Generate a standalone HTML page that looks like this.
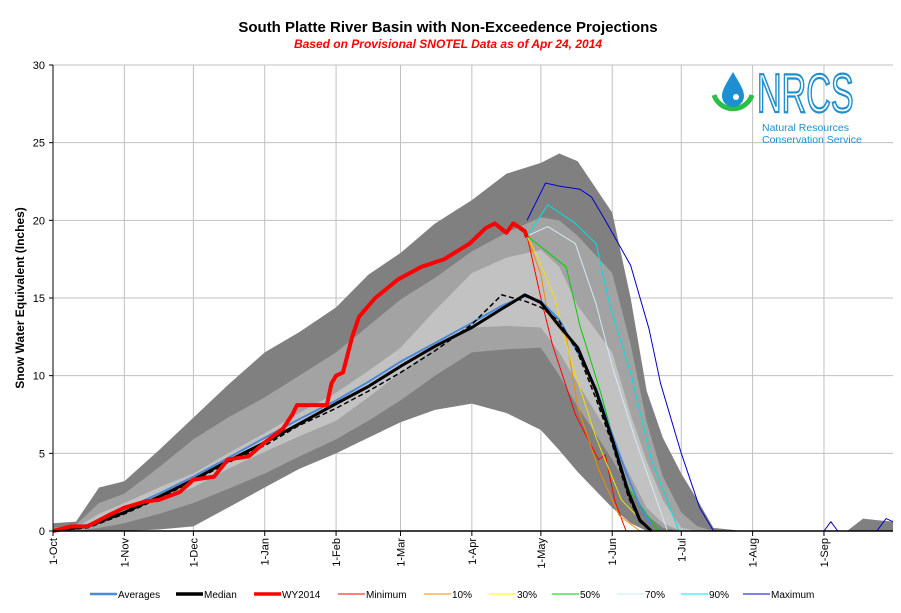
<!DOCTYPE html>
<html><head><meta charset="utf-8"><style>
body{margin:0;background:#fff;font-family:"Liberation Sans",Arial,sans-serif}
#wrap{position:relative;width:901px;height:613px;overflow:hidden}
svg text{font-family:"Liberation Sans",Arial,sans-serif}
</style></head><body>
<div id="wrap">
<svg id="chart" width="901" height="613"></svg>
</div>
<script>
// ---- data ----
const yTicks = [0,5,10,15,20,25,30];
const monthLabels = ["1-Oct","1-Nov","1-Dec","1-Jan","1-Feb","1-Mar","1-Apr","1-May","1-Jun","1-Jul","1-Aug","1-Sep"];
const monthDays = [0,31,61,92,123,151,182,212,243,273,304,335];
const bandDays = [0,10,20,31,46,61,76,92,107,123,137,151,166,182,197,212,220,228,243,251,258,265,273,280,287,300,345,352,358,365];
const maxVals  = [0.5,0.6,2.8,3.2,5.2,7.3,9.4,11.5,12.8,14.4,16.5,17.9,19.8,21.3,23,23.7,24.3,23.8,20.5,15,9,6,3.7,2,0.2,0,0,0.8,0.7,0.6];
const p90Vals  = [0.2,0.4,1.8,2.4,4.1,5.9,7.3,8.6,10,11.5,13.2,14.9,16.3,18,19.2,20.2,20,19,16.6,12,7,3.5,1.2,0.3,0,0,0,0,0,0];
const p70Vals  = [0.1,0.2,1.1,1.8,2.8,3.7,5,6.3,7.6,8.9,10.3,11.8,14.2,16.6,17.6,18.1,17,14.5,11.5,7.5,4.5,2,0.2,0,0,0,0,0,0,0];
const p30Vals  = [0,0.1,0.7,1.2,2,2.8,4,5.1,6.1,7.1,8.6,10.2,11.8,13.1,13.2,13.1,11.5,9.5,5.9,3.5,1.5,0.5,0,0,0,0,0,0,0,0];
const p10Vals  = [0,0,0.2,0.5,1.1,1.8,2.7,3.7,4.8,5.9,7.1,8.4,10,11.5,11.7,11.8,10,8,4.6,2.5,1,0.2,0,0,0,0,0,0,0,0];
const minVals  = [0,0,0,0,0.1,0.3,1.5,2.8,4,5,6,7,7.8,8.2,7.6,6.5,5.2,3.8,1.5,0.5,0,0,0,0,0,0,0,0,0,0];
const medDays = [0,15,31,46,61,76,92,107,123,137,151,166,182,195,205,212,220,228,236,243,250,255,260];
const medVals = [0,0.3,1.2,2.2,3.3,4.5,5.7,6.9,8.2,9.3,10.6,11.9,13.1,14.3,15.2,14.7,13.2,11.8,9,5.9,2.5,0.7,0];
const avgVals = [0,0.4,1.4,2.4,3.5,4.7,6,7.2,8.4,9.6,10.9,12.1,13.4,14.5,15.1,14.8,13.6,11.5,9.2,6.2,3.4,1.6,0.4];
const dashVals = [0,0.2,1.1,2.1,3.2,4.4,5.5,6.8,7.9,9,10.2,11.6,13.3,15.2,14.8,14.4,13.5,11.5,8.5,5.6,2.2,0.6,0];
const wyDays = [0,8,15,24,31,40,46,55,61,70,76,85,92,100,104,106,119,121,123,126,130,133,140,150,160,170,181,188,192,197,200,205,206];
const wyVals = [0,0.3,0.3,1,1.5,1.9,2,2.5,3.3,3.5,4.6,4.8,5.7,6.6,7.5,8.1,8.1,9.5,10,10.2,12.5,13.8,15,16.2,17,17.5,18.5,19.5,19.8,19.2,19.8,19.3,18.9];
const pMaxDays=[206,214,220,229,234,240,251,259,264,273,281,287,335,338,341,358,362,365];
const pMaxVals=[20,22.4,22.2,22,21.5,20,17.1,13,9.5,5,1.5,0,0,0.6,0,0,0.8,0.6];
const p90Days=[206,215,220,227,236,242,251,260,272,365];
const p90Proj=[19,21,20.5,19.8,18.5,14.5,10.2,4.6,0,0];
const p70Days=[206,215,227,236,243,253,267,365];
const p70Proj=[19,19.6,18.5,14.6,10.6,5.9,0,0];
const p50Days=[206,212,223,229,238,249,263,365];
const p50Proj=[19,18.3,17,13.2,8.9,3,0,0];
const p30Days=[206,211,218,225,236,247,260,365];
const p30Proj=[19,17.5,15,11,6,2,0,0];
const p10Days=[206,212,215,223,228,237,246,255,365];
const p10Proj=[19,16.5,14,12.5,8,4,1,0,0];
const pMinDays=[206,212,217,227,237,240,244,249,365];
const pMinProj=[19,15,12,7.5,4.6,4.9,2,0,0];
const legendLabels=["Averages","Median","WY2014","Minimum","10%","30%","50%","70%","90%","Maximum"];
const legendColors=["#4a8ad8","#000","#f00","#f00","#f28a00","#ffff00","#00d000","#c8e8f0","#00e8e8","#0000d0"];

// ---- axes ----
const X0=53, X1=893, Y0=531, Y1=65;
const xs=d=>X0+d*(X1-X0)/365;
const ys=v=>Y0-v*(Y0-Y1)/30;
const NS="http://www.w3.org/2000/svg";
const svg=document.getElementById('chart');
function mk(tag,attrs,parent){const e=document.createElementNS(NS,tag);for(const k in attrs)e.setAttribute(k,attrs[k]);(parent||svg).appendChild(e);return e;}

yTicks.forEach(t=>{if(t>0){const g=mk('line',{x1:X0,x2:X1,y1:ys(t),y2:ys(t),stroke:'#c0c0c0','stroke-width':1});

}});
monthDays.forEach(d=>{if(d>0){const g=mk('line',{x1:xs(d),x2:xs(d),y1:Y1,y2:Y0,stroke:'#c0c0c0','stroke-width':1});

}});

function band(days,hi,lo,fill,name){
  let p=days.map((d,i)=>xs(d)+','+ys(hi[i])).join(' ');
  p+=' '+days.map((d,i)=>xs(d)+','+ys(lo[i])).reverse().join(' ');
  const e=mk('polygon',{points:p,fill:fill});
  
  
}
band(bandDays,maxVals,minVals,'#808080','band-min-max');
band(bandDays,p90Vals,p10Vals,'#a3a3a3','band-10-90');
band(bandDays,p70Vals,p30Vals,'#c2c2c2','band-30-70');

function line(days,vals,color,w,name,dash){
  const e=mk('polyline',{points:days.map((d,i)=>xs(d)+','+ys(vals[i])).join(' '),fill:'none',stroke:color,'stroke-width':w,'stroke-linejoin':'round'});
  if(dash)e.setAttribute('stroke-dasharray',dash);
  
  
}
line(pMinDays,pMinProj,'#f00',1,'minimum-line');
line(p10Days,p10Proj,'#f28a00',1,'p10-line');
line(p30Days,p30Proj,'#f0e000',1,'p30-line');
line(p50Days,p50Proj,'#00d000',1,'p50-line');
line(p70Days,p70Proj,'#d0ecf4',1,'p70-line');
line(p90Days,p90Proj,'#00e0e0',1,'p90-line');
line(pMaxDays,pMaxVals,'#0000d0',1,'maximum-line');
line(medDays,avgVals,'#4a8ad8',2,'averages-line');
line(medDays,dashVals,'#000',1.5,'median-dashed-line','5,3');
line(medDays,medVals,'#000',3,'median-line');
line(wyDays,wyVals,'#f00',4,'wy2014-line');

const ax=mk('line',{x1:X0,x2:X0,y1:Y1,y2:Y0,stroke:'#000','stroke-width':1});


const bx=mk('line',{x1:X0,x2:X1,y1:Y0,y2:Y0,stroke:'#000','stroke-width':1.5});


yTicks.forEach(t=>{
  mk('line',{x1:X0-4,x2:X0,y1:ys(t),y2:ys(t),stroke:'#000'});
  const tx=mk('text',{x:X0-8,y:ys(t)+4,'text-anchor':'end','font-size':11});
  tx.textContent=t;
  
  
});
monthLabels.forEach((m,i)=>{
  const x=xs(monthDays[i]);
  mk('line',{x1:x,x2:x,y1:Y0,y2:Y0+5,stroke:'#000'});
  const tx=mk('text',{x:0,y:0,'text-anchor':'end','font-size':11,transform:`translate(${x+4},${Y0+7}) rotate(-90)`});
  tx.textContent=m;
  
  
});
const yt=mk('text',{x:0,y:0,'text-anchor':'middle','font-size':12,'font-weight':'bold',transform:`translate(24,298) rotate(-90)`});
yt.textContent='Snow Water Equivalent (Inches)';



const t1=mk('text',{x:448,y:32,'text-anchor':'middle','font-size':15,'font-weight':'bold'});
t1.textContent='South Platte River Basin with Non-Exceedence Projections';


const t2=mk('text',{x:448,y:48,'text-anchor':'middle','font-size':12,'font-weight':'bold','font-style':'italic',fill:'#f00'});
t2.textContent='Based on Provisional SNOTEL Data as of Apr 24, 2014';



// logo
const lg=mk('g',{});


mk('path',{d:'M714 95 A20 20 0 0 0 752 95',fill:'none',stroke:'#2bbf4a','stroke-width':5},lg);
mk('path',{d:'M733 72 C726 84 722 90 722 96 A11 11 0 0 0 744 96 C744 90 740 84 733 72 Z',fill:'#1e8fd0'},lg);
mk('circle',{cx:736,cy:97,r:3,fill:'#fff'},lg);
const nr=mk('text',{x:0,y:0,'font-size':55,fill:'none',stroke:'#1e8fd0','stroke-width':2.2,transform:'translate(757,112) scale(0.62,1)'},lg);
nr.textContent='NRCS';
const n1=mk('text',{x:762,y:131,'font-size':10.5,fill:'#1e8fd0'},lg);n1.textContent='Natural Resources';
const n2=mk('text',{x:762,y:143,'font-size':10.5,fill:'#1e8fd0'},lg);n2.textContent='Conservation Service';

// legend
const legX=[90,176,254,338,424,489,552,617,681,743];
legendLabels.forEach((l,i)=>{
  const g=mk('g',{});
  
  
  const w=[2.5,3.5,3.5,1,1,1,1,1,1,1][i];
  mk('line',{x1:legX[i],x2:legX[i]+27,y1:594,y2:594,stroke:legendColors[i],'stroke-width':w},g);
  const tx=mk('text',{x:legX[i]+28,y:598,'font-size':10},g);
  tx.textContent=l;
});
</script>
</body></html>
